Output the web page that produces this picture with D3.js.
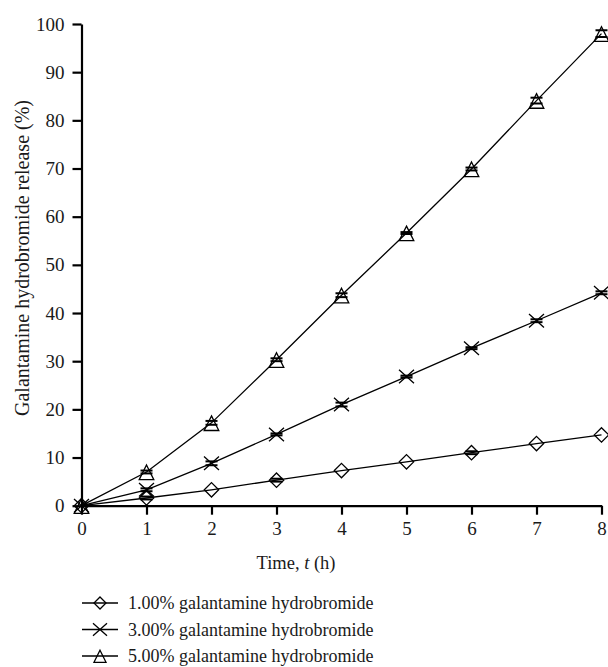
<!DOCTYPE html>
<html>
<head>
<meta charset="utf-8">
<script src="https://cdn.jsdelivr.net/npm/d3@7"></script>
<style>
  html, body { margin: 0; padding: 0; background: #fff; }
  svg { display: block; }
  text { font-family: "Liberation Serif", "Times New Roman", serif; fill: #1a1a1a; }
</style>
</head>
<body>
<svg id="chart" width="608" height="667"></svg>
<script>
// ---- data ----
const times = [0, 1, 2, 3, 4, 5, 6, 7, 8];
const xTicks = [0, 1, 2, 3, 4, 5, 6, 7, 8];
const yTicks = [0, 10, 20, 30, 40, 50, 60, 70, 80, 90, 100];
const seriesNames = [
  "1.00% galantamine hydrobromide",
  "3.00% galantamine hydrobromide",
  "5.00% galantamine hydrobromide"
];
const release1 = [0, 1.6, 3.3, 5.3, 7.3, 9.1, 11.0, 12.9, 14.7];
const release3 = [0, 3.3, 8.8, 14.8, 21.0, 26.8, 32.7, 38.4, 44.2];
const release5 = [0, 7.0, 17.2, 30.3, 43.7, 56.6, 69.9, 84.1, 98.0];
const err1 = [0, 0.3, 0, 0.3, 0, 0, 0.3, 0, 0];
const err3 = [0, 0.3, 0.4, 0.2, 0.4, 0.2, 0.2, 0.3, 0.3];
const err5 = [0, 0.3, 0.4, 0.3, 0.4, 0.2, 0.3, 0.6, 0.7];
const xLabel = "Time, ";
const xLabelItalic = "t";
const xLabelEnd = " (h)";
const yLabel = "Galantamine hydrobromide release (%)";

// ---- symbols ----
const symDiamond = { draw(ctx, r) { ctx.moveTo(0, -r); ctx.lineTo(r, 0); ctx.lineTo(0, r); ctx.lineTo(-r, 0); ctx.closePath(); } };
const symCross = { draw(ctx, r) { const h = r * 0.9; ctx.moveTo(-r, -h); ctx.lineTo(r, h); ctx.moveTo(-r, h); ctx.lineTo(r, -h); } };
const symTriangle = { draw(ctx, r) { ctx.moveTo(0, -r * 0.95); ctx.lineTo(r, r * 1.05); ctx.lineTo(-r, r * 1.05); ctx.closePath(); } };

const series = [
  { name: seriesNames[0], values: release1, err: err1, sym: symDiamond, r: 7.2 },
  { name: seriesNames[1], values: release3, err: err3, sym: symCross, r: 7.5 },
  { name: seriesNames[2], values: release5, err: err5, sym: symTriangle, r: 7.3 }
];

const svg = d3.select("#chart");
const x = d3.scaleLinear().domain([0, 8]).range([81.5, 601.5]);
const y = d3.scaleLinear().domain([0, 100]).range([505.7, 24]);

// axes
const gx = svg.append("g").attr("transform", `translate(0,${y(0)})`)
  .call(d3.axisBottom(x).tickValues(xTicks).tickSize(9).tickSizeOuter(0).tickPadding(7).tickFormat(d3.format("d")));
const gy = svg.append("g").attr("transform", `translate(${x(0)},0)`)
  .call(d3.axisLeft(y).tickValues(yTicks).tickSize(9).tickSizeOuter(0).tickPadding(8).tickFormat(d3.format("d")));
[gx, gy].forEach(g => {
  g.select(".domain").attr("stroke", "#000").attr("stroke-width", 2.2);
  g.selectAll(".tick line").attr("stroke", "#000").attr("stroke-width", 2.2);
  g.selectAll(".tick text").attr("font-size", 19).attr("font-family", "Liberation Serif").attr("fill", "#1a1a1a");
});

// lines, error bars, markers
const line = d3.line().x((d, i) => x(times[i])).y(d => y(d));
series.forEach(s => {
  svg.append("path").attr("d", line(s.values)).attr("fill", "none").attr("stroke", "#000").attr("stroke-width", 1.3);
});
series.forEach(s => {
  const g = svg.append("g");
  s.values.forEach((v, i) => {
    const cx = x(times[i]);
    if (s.err[i] > 0) {
      [v + s.err[i], v - s.err[i]].forEach(yy => {
        g.append("line").attr("x1", cx - 6).attr("x2", cx + 6)
          .attr("y1", y(yy)).attr("y2", y(yy)).attr("stroke", "#000").attr("stroke-width", 2);
      });
    }
    g.append("path").attr("transform", `translate(${cx},${y(v)})`)
      .attr("d", d3.symbol().type(s.sym).size(s.r)())
      .attr("fill", "none").attr("stroke", "#000").attr("stroke-width", 1.3);
  });
});

// axis titles
const xt = svg.append("text").attr("x", x(3.3)).attr("y", 569).attr("text-anchor", "middle").attr("font-size", 18.5);
xt.append("tspan").text(xLabel);
xt.append("tspan").attr("font-style", "italic").text(xLabelItalic);
xt.append("tspan").text(xLabelEnd);

svg.append("text").attr("transform", "translate(29,258) rotate(-90)")
  .attr("text-anchor", "middle").attr("font-size", 20).text(yLabel);

// legend
const legY = [603, 629.5, 656];
series.forEach((s, i) => {
  const g = svg.append("g").attr("transform", `translate(0,${legY[i]})`);
  g.append("line").attr("x1", 82).attr("x2", 118).attr("y1", 0).attr("y2", 0).attr("stroke", "#000").attr("stroke-width", 1.5);
  g.append("path").attr("transform", "translate(100,0)")
    .attr("d", d3.symbol().type(s.sym).size(i === 1 ? 7 : 6)())
    .attr("fill", "none").attr("stroke", "#000").attr("stroke-width", 1.3);
  g.append("text").attr("x", 128).attr("y", 0).attr("dy", "0.35em").attr("font-size", 18).text(s.name);
});
</script>
</body>
</html>
